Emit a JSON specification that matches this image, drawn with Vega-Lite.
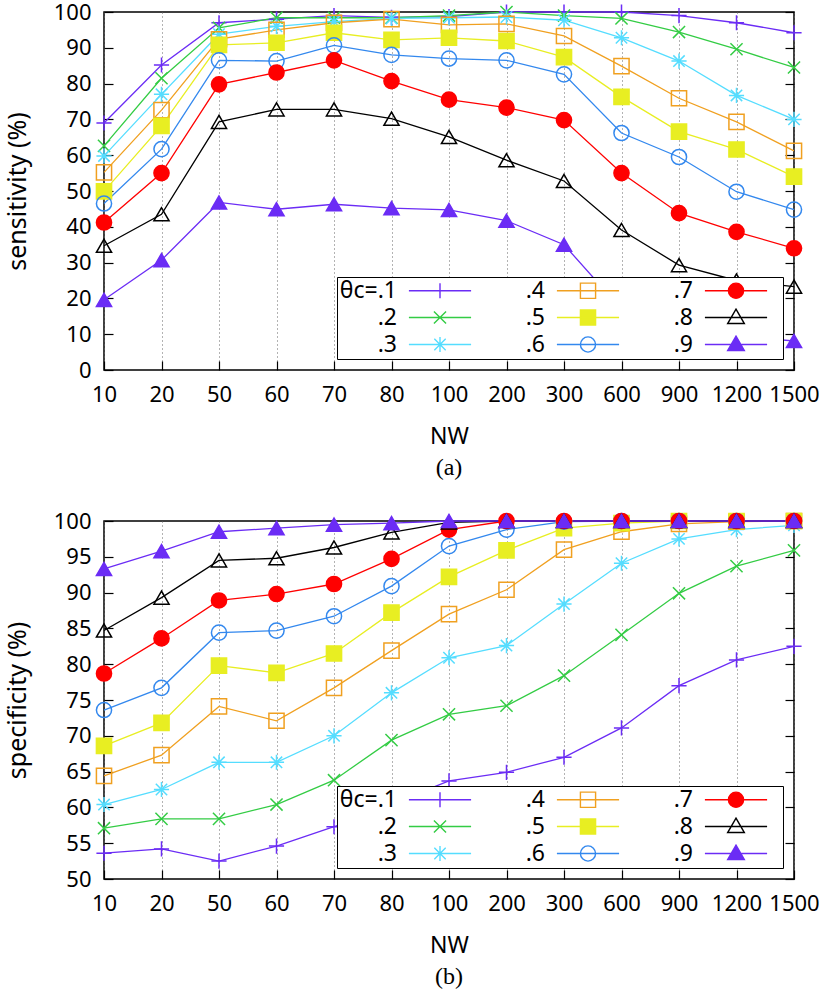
{
"$schema": "https://vega.github.io/schema/vega-lite/v6.json",
"padding": {"left": 4, "top": 0, "right": 0, "bottom": 0},
"background": "white",
"config": {
  "font": "Noto Sans",
  "view": {"stroke": "black", "strokeWidth": 1.5},
  "axis": {"labelFontSize": 22, "titleFontSize": 25, "titleFontWeight": "normal", "labelColor": "black", "titleColor": "black", "domain": false, "tickColor": "black", "tickWidth": 1.2, "labelFont": "Noto Sans", "titleFont": "Noto Sans"},
  "legend": {"orient": "bottom-right", "offset": 11, "fillColor": "white", "strokeColor": "black", "padding": 2, "columns": 3, "labelFontSize": 23, "labelFont": "Noto Sans", "labelColor": "black", "symbolSize": 230, "symbolStrokeWidth": 1.4, "rowPadding": 3, "columnPadding": 2, "cornerRadius": 0}
},
"datasets": {
"sens": [
{"t":".1","n":"10","v":69},{"t":".1","n":"20","v":85.2},{"t":".1","n":"50","v":97},{"t":".1","n":"60","v":98},{"t":".1","n":"70","v":99},{"t":".1","n":"80","v":98.5},{"t":".1","n":"100","v":98.7},{"t":".1","n":"200","v":100},{"t":".1","n":"300","v":100},{"t":".1","n":"600","v":100},{"t":".1","n":"900","v":99},{"t":".1","n":"1200","v":97},{"t":".1","n":"1500","v":94.2},
{"t":".2","n":"10","v":62.6},{"t":".2","n":"20","v":81.5},{"t":".2","n":"50","v":95.6},{"t":".2","n":"60","v":98.4},{"t":".2","n":"70","v":98.4},{"t":".2","n":"80","v":98.4},{"t":".2","n":"100","v":99},{"t":".2","n":"200","v":100},{"t":".2","n":"300","v":99},{"t":".2","n":"600","v":98.2},{"t":".2","n":"900","v":94.4},{"t":".2","n":"1200","v":89.6},{"t":".2","n":"1500","v":84.5},
{"t":".3","n":"10","v":59.8},{"t":".3","n":"20","v":77},{"t":".3","n":"50","v":93.8},{"t":".3","n":"60","v":96},{"t":".3","n":"70","v":97.3},{"t":".3","n":"80","v":98.2},{"t":".3","n":"100","v":98.4},{"t":".3","n":"200","v":98.6},{"t":".3","n":"300","v":97.7},{"t":".3","n":"600","v":92.8},{"t":".3","n":"900","v":86.3},{"t":".3","n":"1200","v":76.7},{"t":".3","n":"1500","v":70},
{"t":".4","n":"10","v":55.2},{"t":".4","n":"20","v":72.6},{"t":".4","n":"50","v":92.4},{"t":".4","n":"60","v":95},{"t":".4","n":"70","v":97},{"t":".4","n":"80","v":98},{"t":".4","n":"100","v":96.4},{"t":".4","n":"200","v":96.7},{"t":".4","n":"300","v":93.3},{"t":".4","n":"600","v":84.9},{"t":".4","n":"900","v":75.9},{"t":".4","n":"1200","v":69.3},{"t":".4","n":"1500","v":61.2},
{"t":".5","n":"10","v":49.9},{"t":".5","n":"20","v":68.2},{"t":".5","n":"50","v":90.8},{"t":".5","n":"60","v":91.4},{"t":".5","n":"70","v":94.2},{"t":".5","n":"80","v":92.2},{"t":".5","n":"100","v":92.8},{"t":".5","n":"200","v":91.9},{"t":".5","n":"300","v":87.4},{"t":".5","n":"600","v":76.3},{"t":".5","n":"900","v":66.6},{"t":".5","n":"1200","v":61.6},{"t":".5","n":"1500","v":54},
{"t":".6","n":"10","v":46.5},{"t":".6","n":"20","v":61.7},{"t":".6","n":"50","v":86.5},{"t":".6","n":"60","v":86.3},{"t":".6","n":"70","v":90.7},{"t":".6","n":"80","v":88},{"t":".6","n":"100","v":87},{"t":".6","n":"200","v":86.5},{"t":".6","n":"300","v":82.6},{"t":".6","n":"600","v":66.2},{"t":".6","n":"900","v":59.5},{"t":".6","n":"1200","v":49.8},{"t":".6","n":"1500","v":44.8},
{"t":".7","n":"10","v":41.2},{"t":".7","n":"20","v":55},{"t":".7","n":"50","v":79.8},{"t":".7","n":"60","v":83.1},{"t":".7","n":"70","v":86.5},{"t":".7","n":"80","v":80.7},{"t":".7","n":"100","v":75.5},{"t":".7","n":"200","v":73.3},{"t":".7","n":"300","v":69.8},{"t":".7","n":"600","v":55},{"t":".7","n":"900","v":43.8},{"t":".7","n":"1200","v":38.6},{"t":".7","n":"1500","v":34},
{"t":".8","n":"10","v":34.7},{"t":".8","n":"20","v":43.5},{"t":".8","n":"50","v":69.3},{"t":".8","n":"60","v":72.8},{"t":".8","n":"70","v":72.8},{"t":".8","n":"80","v":70.2},{"t":".8","n":"100","v":65.1},{"t":".8","n":"200","v":58.6},{"t":".8","n":"300","v":52.8},{"t":".8","n":"600","v":39.1},{"t":".8","n":"900","v":29.3},{"t":".8","n":"1200","v":25},{"t":".8","n":"1500","v":23.3},
{"t":".9","n":"10","v":19.6},{"t":".9","n":"20","v":30.7},{"t":".9","n":"50","v":46.8},{"t":".9","n":"60","v":44.9},{"t":".9","n":"70","v":46.3},{"t":".9","n":"80","v":45.2},{"t":".9","n":"100","v":44.7},{"t":".9","n":"200","v":41.7},{"t":".9","n":"300","v":35},{"t":".9","n":"600","v":17},{"t":".9","n":"900","v":11},{"t":".9","n":"1200","v":9.5},{"t":".9","n":"1500","v":8.1}
],
"spec": [
{"t":".1","n":"10","v":53.6},{"t":".1","n":"20","v":54.2},{"t":".1","n":"50","v":52.5},{"t":".1","n":"60","v":54.6},{"t":".1","n":"70","v":57.3},{"t":".1","n":"80","v":60.5},{"t":".1","n":"100","v":63.7},{"t":".1","n":"200","v":64.9},{"t":".1","n":"300","v":67},{"t":".1","n":"600","v":71.1},{"t":".1","n":"900","v":77},{"t":".1","n":"1200","v":80.6},{"t":".1","n":"1500","v":82.5},
{"t":".2","n":"10","v":57.1},{"t":".2","n":"20","v":58.4},{"t":".2","n":"50","v":58.4},{"t":".2","n":"60","v":60.4},{"t":".2","n":"70","v":63.8},{"t":".2","n":"80","v":69.4},{"t":".2","n":"100","v":73},{"t":".2","n":"200","v":74.2},{"t":".2","n":"300","v":78.4},{"t":".2","n":"600","v":84.1},{"t":".2","n":"900","v":89.9},{"t":".2","n":"1200","v":93.7},{"t":".2","n":"1500","v":95.9},
{"t":".3","n":"10","v":60.4},{"t":".3","n":"20","v":62.5},{"t":".3","n":"50","v":66.3},{"t":".3","n":"60","v":66.3},{"t":".3","n":"70","v":70},{"t":".3","n":"80","v":76},{"t":".3","n":"100","v":80.9},{"t":".3","n":"200","v":82.6},{"t":".3","n":"300","v":88.4},{"t":".3","n":"600","v":94.1},{"t":".3","n":"900","v":97.5},{"t":".3","n":"1200","v":98.8},{"t":".3","n":"1500","v":99.4},
{"t":".4","n":"10","v":64.4},{"t":".4","n":"20","v":67.3},{"t":".4","n":"50","v":74.1},{"t":".4","n":"60","v":72.1},{"t":".4","n":"70","v":76.7},{"t":".4","n":"80","v":81.9},{"t":".4","n":"100","v":87},{"t":".4","n":"200","v":90.4},{"t":".4","n":"300","v":96},{"t":".4","n":"600","v":98.5},{"t":".4","n":"900","v":99.6},{"t":".4","n":"1200","v":99.9},{"t":".4","n":"1500","v":100},
{"t":".5","n":"10","v":68.6},{"t":".5","n":"20","v":71.8},{"t":".5","n":"50","v":79.8},{"t":".5","n":"60","v":78.8},{"t":".5","n":"70","v":81.5},{"t":".5","n":"80","v":87.2},{"t":".5","n":"100","v":92.2},{"t":".5","n":"200","v":95.9},{"t":".5","n":"300","v":99},{"t":".5","n":"600","v":99.7},{"t":".5","n":"900","v":100},{"t":".5","n":"1200","v":100},{"t":".5","n":"1500","v":100},
{"t":".6","n":"10","v":73.6},{"t":".6","n":"20","v":76.7},{"t":".6","n":"50","v":84.4},{"t":".6","n":"60","v":84.7},{"t":".6","n":"70","v":86.7},{"t":".6","n":"80","v":90.9},{"t":".6","n":"100","v":96.5},{"t":".6","n":"200","v":98.8},{"t":".6","n":"300","v":99.9},{"t":".6","n":"600","v":100},{"t":".6","n":"900","v":100},{"t":".6","n":"1200","v":100},{"t":".6","n":"1500","v":100},
{"t":".7","n":"10","v":78.7},{"t":".7","n":"20","v":83.6},{"t":".7","n":"50","v":88.9},{"t":".7","n":"60","v":89.8},{"t":".7","n":"70","v":91.2},{"t":".7","n":"80","v":94.7},{"t":".7","n":"100","v":98.8},{"t":".7","n":"200","v":100},{"t":".7","n":"300","v":100},{"t":".7","n":"600","v":100},{"t":".7","n":"900","v":100},{"t":".7","n":"1200","v":100},{"t":".7","n":"1500","v":100},
{"t":".8","n":"10","v":84.7},{"t":".8","n":"20","v":89.3},{"t":".8","n":"50","v":94.5},{"t":".8","n":"60","v":94.8},{"t":".8","n":"70","v":96.3},{"t":".8","n":"80","v":98.4},{"t":".8","n":"100","v":99.8},{"t":".8","n":"200","v":100},{"t":".8","n":"300","v":100},{"t":".8","n":"600","v":100},{"t":".8","n":"900","v":100},{"t":".8","n":"1200","v":100},{"t":".8","n":"1500","v":100},
{"t":".9","n":"10","v":93.3},{"t":".9","n":"20","v":95.8},{"t":".9","n":"50","v":98.5},{"t":".9","n":"60","v":99},{"t":".9","n":"70","v":99.5},{"t":".9","n":"80","v":99.7},{"t":".9","n":"100","v":100},{"t":".9","n":"200","v":100},{"t":".9","n":"300","v":100},{"t":".9","n":"600","v":100},{"t":".9","n":"900","v":100},{"t":".9","n":"1200","v":100},{"t":".9","n":"1500","v":100}
]
},
"spacing": 28,
"resolve": {"scale": {"stroke": "independent", "fill": "independent", "shape": "independent"}, "legend": {"stroke": "independent", "fill": "independent", "shape": "independent"}},
"vconcat": [
{
  "width": 690, "height": 358,
  "data": {"name": "sens"},
  "title": {"text": "(a)", "orient": "bottom", "font": "Liberation Serif", "fontSize": 24, "fontWeight": "normal", "color": "black", "offset": 8},
  "encoding": {
    "x": {"field": "n", "type": "ordinal", "scale": {"type": "point", "padding": 0, "domain": ["10","20","50","60","70","80","100","200","300","600","900","1200","1500"]},
      "axis": {"title": "NW", "titleFontSize": 23, "labelAngle": 0, "grid": true, "gridDash": [1, 3], "gridColor": "#666", "gridWidth": 1, "tickSize": -9, "labelPadding": 23, "titlePadding": 20}},
    "stroke": {"field": "t", "type": "nominal", "scale": {"domain": [".1",".2",".3",".4",".5",".6",".7",".8",".9"], "range": ["#6b2cf5","#33cc44","#55ddff","#f0a020","#e8ee22","#3388ee","#ff0000","#000000","#6b2cf5"]},
      "legend": {"title": null, "labelExpr": "datum.value == '.1' ? 'θc=.1' : '\u2007\u2007\u2007' + datum.value",
        "encoding": {"labels": {"align": {"value": "right"}, "x": {"value": 58}},
                   "symbols": {"x": {"value": 101},
                     "fill": {"value": {"signal": "datum.value=='.5' ? '#e8ee22' : datum.value=='.7' ? '#ff0000' : datum.value=='.9' ? '#6b2cf5' : 'transparent'"}},
                     "shape": {"value": {"signal": "datum.value=='.1' ? 'M-4.1,0L4.1,0M5.5,0L5.5,0M0,-1L0,1' : datum.value=='.2' ? 'M-4.1,0L4.1,0M5.5,0L5.5,0M-0.8,-0.8L0.8,0.8M-0.8,0.8L0.8,-0.8' : datum.value=='.3' ? 'M-4.1,0L4.1,0M5.5,0L5.5,0M0,-1L0,1M-0.75,-0.75L0.75,0.75M-0.75,0.75L0.75,-0.75' : (datum.value=='.4' || datum.value=='.5') ? 'M-4.1,0L4.1,0M5.5,0L5.5,0M-1,-1L1,-1L1,1L-1,1Z' : (datum.value=='.6' || datum.value=='.7') ? 'M-4.1,0L4.1,0M5.5,0L5.5,0M1,0A1,1,0,1,1,-1,0A1,1,0,1,1,1,0Z' : 'M-4.1,0L4.1,0M5.5,0L5.5,0M0,-1.1L1.1,0.8L-1.1,0.8Z'"}}}}}}
  },
  "layer": [
    {"mark": {"type": "line", "strokeWidth": 1.3},
     "encoding": {"y": {"field": "v", "type": "quantitative", "scale": {"domain": [0, 100]},
       "axis": {"title": "sensitivity (%)", "values": [0,10,20,30,40,50,60,70,80,90,100], "grid": false, "tickSize": -9, "labelPadding": 22, "titlePadding": 23}}}},
    {"mark": {"type": "point", "filled": true, "size": 230, "strokeWidth": 1.5, "opacity": 1},
     "encoding": {
       "y": {"field": "v", "type": "quantitative", "scale": {"domain": [0, 100]},
         "axis": {"orient": "right", "title": null, "labels": false, "values": [0,10,20,30,40,50,60,70,80,90,100], "grid": false, "tickSize": -9}},
       "fill": {"field": "t", "type": "nominal", "scale": {"domain": [".9",".8",".7",".6",".5",".4",".3",".2",".1"], "range": ["#6b2cf5","transparent","#ff0000","transparent","#e8ee22","transparent","transparent","transparent","transparent"]}, "legend": null},
       "shape": {"field": "t", "type": "nominal", "scale": {"domain": [".9",".8",".7",".6",".5",".4",".3",".2",".1"], "range": ["triangle-up","triangle-up","circle","circle","square","square","M-1,0L1,0M0,-1L0,1M-0.75,-0.75L0.75,0.75M-0.75,0.75L0.75,-0.75","M-0.8,-0.8L0.8,0.8M-0.8,0.8L0.8,-0.8","M-1,0L1,0M0,-1L0,1"]}, "legend": null}
     }}
  ],
  "resolve": {"axis": {"y": "independent"}}
},
{
  "width": 690, "height": 358,
  "data": {"name": "spec"},
  "title": {"text": "(b)", "orient": "bottom", "font": "Liberation Serif", "fontSize": 24, "fontWeight": "normal", "color": "black", "offset": 8},
  "encoding": {
    "x": {"field": "n", "type": "ordinal", "scale": {"type": "point", "padding": 0, "domain": ["10","20","50","60","70","80","100","200","300","600","900","1200","1500"]},
      "axis": {"title": "NW", "titleFontSize": 23, "labelAngle": 0, "grid": true, "gridDash": [1, 3], "gridColor": "#666", "gridWidth": 1, "tickSize": -9, "labelPadding": 23, "titlePadding": 20}},
    "stroke": {"field": "t", "type": "nominal", "scale": {"domain": [".1",".2",".3",".4",".5",".6",".7",".8",".9"], "range": ["#6b2cf5","#33cc44","#55ddff","#f0a020","#e8ee22","#3388ee","#ff0000","#000000","#6b2cf5"]},
      "legend": {"title": null, "labelExpr": "datum.value == '.1' ? 'θc=.1' : '\u2007\u2007\u2007' + datum.value",
        "encoding": {"labels": {"align": {"value": "right"}, "x": {"value": 58}},
                   "symbols": {"x": {"value": 101},
                     "fill": {"value": {"signal": "datum.value=='.5' ? '#e8ee22' : datum.value=='.7' ? '#ff0000' : datum.value=='.9' ? '#6b2cf5' : 'transparent'"}},
                     "shape": {"value": {"signal": "datum.value=='.1' ? 'M-4.1,0L4.1,0M5.5,0L5.5,0M0,-1L0,1' : datum.value=='.2' ? 'M-4.1,0L4.1,0M5.5,0L5.5,0M-0.8,-0.8L0.8,0.8M-0.8,0.8L0.8,-0.8' : datum.value=='.3' ? 'M-4.1,0L4.1,0M5.5,0L5.5,0M0,-1L0,1M-0.75,-0.75L0.75,0.75M-0.75,0.75L0.75,-0.75' : (datum.value=='.4' || datum.value=='.5') ? 'M-4.1,0L4.1,0M5.5,0L5.5,0M-1,-1L1,-1L1,1L-1,1Z' : (datum.value=='.6' || datum.value=='.7') ? 'M-4.1,0L4.1,0M5.5,0L5.5,0M1,0A1,1,0,1,1,-1,0A1,1,0,1,1,1,0Z' : 'M-4.1,0L4.1,0M5.5,0L5.5,0M0,-1.1L1.1,0.8L-1.1,0.8Z'"}}}}}}
  },
  "layer": [
    {"mark": {"type": "line", "strokeWidth": 1.3},
     "encoding": {"y": {"field": "v", "type": "quantitative", "scale": {"domain": [50, 100]},
       "axis": {"title": "specificity (%)", "values": [50,55,60,65,70,75,80,85,90,95,100], "grid": false, "tickSize": -9, "labelPadding": 22, "titlePadding": 23}}}},
    {"mark": {"type": "point", "filled": true, "size": 230, "strokeWidth": 1.5, "opacity": 1},
     "encoding": {
       "y": {"field": "v", "type": "quantitative", "scale": {"domain": [50, 100]},
         "axis": {"orient": "right", "title": null, "labels": false, "values": [50,55,60,65,70,75,80,85,90,95,100], "grid": false, "tickSize": -9}},
       "fill": {"field": "t", "type": "nominal", "scale": {"domain": [".9",".8",".7",".6",".5",".4",".3",".2",".1"], "range": ["#6b2cf5","transparent","#ff0000","transparent","#e8ee22","transparent","transparent","transparent","transparent"]}, "legend": null},
       "shape": {"field": "t", "type": "nominal", "scale": {"domain": [".9",".8",".7",".6",".5",".4",".3",".2",".1"], "range": ["triangle-up","triangle-up","circle","circle","square","square","M-1,0L1,0M0,-1L0,1M-0.75,-0.75L0.75,0.75M-0.75,0.75L0.75,-0.75","M-0.8,-0.8L0.8,0.8M-0.8,0.8L0.8,-0.8","M-1,0L1,0M0,-1L0,1"]}, "legend": null}
     }}
  ],
  "resolve": {"axis": {"y": "independent"}}
}
]
}
